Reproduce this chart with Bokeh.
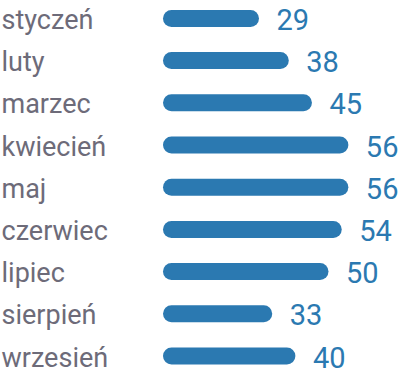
from bokeh.plotting import figure
from bokeh.models import ColumnDataSource, Range1d
from bokeh.core.properties import value
from bokeh.embed import file_html
from bokeh.resources import INLINE

months = ["styczeń", "luty", "marzec", "kwiecień", "maj", "czerwiec", "lipiec", "sierpień", "wrzesień"]
values = [29, 38, 45, 56, 56, 54, 50, 33, 40]

W, H = 399, 375
k = 3.31         # pixels per unit
zero_px = 162.5  # frame pixel of value 0
row0_px = 17.9
row_step = 42.2
bar_h = 17

x0 = -zero_px / k
x1 = x0 + W / k
y_top = -row0_px / row_step
y_bot = (H - row0_px) / row_step

r = (bar_h / 2) / k
src = ColumnDataSource(dict(
    y=list(range(len(months))),
    month=months,
    val=values,
    xs=[r] * len(values),
    xe=[v - r for v in values],
    lx=[x0 + 1 / k] * len(values),
    lbl=[str(v) for v in values],
))

p = figure(width=W, height=H, output_backend="svg", toolbar_location=None,
           x_range=Range1d(x0, x1), y_range=Range1d(y_bot, y_top),
           min_border=0, outline_line_color=None)
p.axis.visible = False
p.grid.visible = False
p.background_fill_color = "white"
p.border_fill_color = "white"

p.segment(x0="xs", y0="y", x1="xe", y1="y", source=src, line_width=bar_h,
          line_cap="round", line_color="#2b79b1")
p.text(x="lx", y="y", text="month", source=src, text_font=value("Roboto"),
       text_font_size="27px", text_color="#6d6b79", text_baseline="middle",
       text_align="left", y_offset=1.5)
p.text(x="val", y="y", text="lbl", source=src, text_font=value("Roboto"),
       text_font_size="29px", text_color="#2b79b1", text_baseline="middle",
       text_align="left", x_offset=17.5, y_offset=1)

open("out.html", "w").write(file_html(p, INLINE))
